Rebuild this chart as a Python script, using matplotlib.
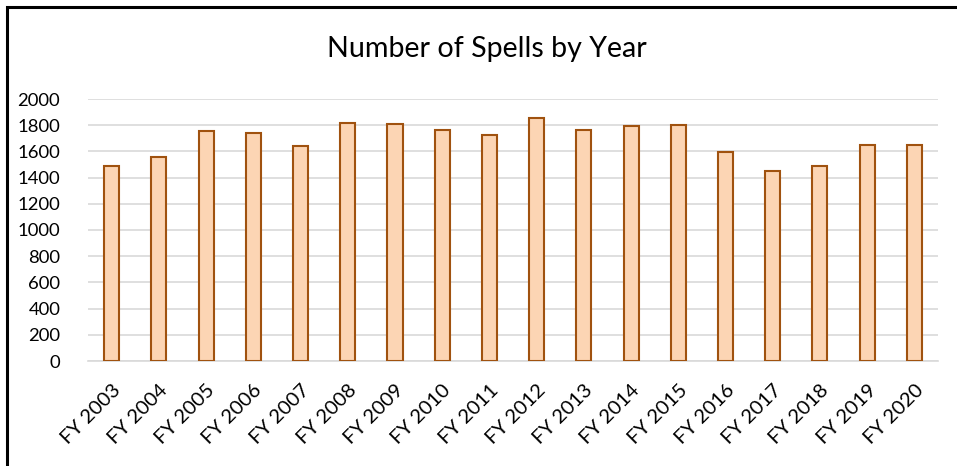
import matplotlib
matplotlib.use("Agg")
import matplotlib.pyplot as plt
from matplotlib.patches import Rectangle

categories = ["FY 2003", "FY 2004", "FY 2005", "FY 2006", "FY 2007", "FY 2008",
              "FY 2009", "FY 2010", "FY 2011", "FY 2012", "FY 2013", "FY 2014",
              "FY 2015", "FY 2016", "FY 2017", "FY 2018", "FY 2019", "FY 2020"]
spells = [1486, 1560, 1754, 1739, 1640, 1815, 1808, 1762, 1722, 1853,
          1760, 1795, 1802, 1592, 1451, 1489, 1648, 1648]
yticks = [0, 200, 400, 600, 800, 1000, 1200, 1400, 1600, 1800, 2000]

plt.rcParams['font.family'] = ['Lato', 'DejaVu Sans']

W, H = 957, 466
fig = plt.figure(figsize=(W / 100, H / 100), dpi=100)
ax = fig.add_axes([88 / W, 105 / H, (938 - 88) / W, (361 - 99) / H])

x = list(range(len(categories)))
ax.bar(x, spells, width=0.32, color="#FCD5B4", edgecolor="#A0520F",
       linewidth=1.5, zorder=3)

ax.set_xlim(-0.5, len(categories) - 0.5)
ax.set_ylim(0, 2000)
ax.set_yticks(yticks)
ax.set_yticklabels([str(v) for v in yticks], fontsize=13.3)
ax.set_xticks(x)
ax.set_xticklabels(categories, fontsize=14.5, rotation=45, ha='right',
                   va='top', rotation_mode='anchor')
ax.tick_params(axis='both', length=0)
ax.tick_params(axis='y', pad=20)
ax.tick_params(axis='x', pad=15)
ax.grid(axis='y', color="#D9D9D9", linewidth=1.2, zorder=0)
for s in ['top', 'right', 'left']:
    ax.spines[s].set_visible(False)
ax.spines['bottom'].set_color("#D9D9D9")
ax.spines['bottom'].set_linewidth(1.2)

fig.text(487 / W, 1 - 49 / H, "Number of Spells by Year", fontsize=20.6,
         ha='center', va='center')

# outer chart border (top and left visible)
fig.patches.append(Rectangle((7 / W, -0.1), 1.2, 1 - 7 / H + 0.1,
                             transform=fig.transFigure, fill=False,
                             edgecolor='black', linewidth=2.2))

fig.savefig("out.png", dpi=100)
